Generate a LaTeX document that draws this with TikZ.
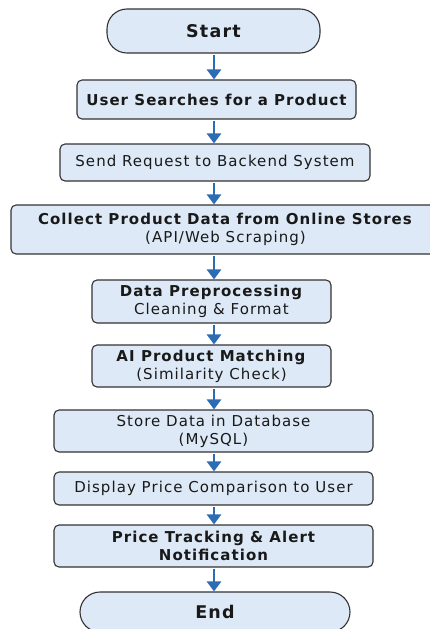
\documentclass[tikz,border=0pt]{standalone}
\usepackage{fontspec}
\setmainfont{DejaVu Sans}[LetterSpace=7]
\usetikzlibrary{arrows.meta}

\definecolor{boxfill}{HTML}{DDE9F6}
\definecolor{boxline}{HTML}{333333}
\definecolor{arrowblue}{HTML}{2B6CB3}

\tikzset{
  stepbox/.style={draw=boxline, line width=1.1pt, fill=boxfill, rounded corners=5pt,
    inner sep=0pt, align=center, text=black!90, font=\fontsize{15}{18}\selectfont},
  boldbox/.style={stepbox, font=\fontsize{15}{18}\selectfont\bfseries},
  termbox/.style={stepbox, rounded corners=20pt, font=\fontsize{17.5}{19}\selectfont\bfseries},
  flow/.style={draw=arrowblue, line width=2.6pt, -{Triangle[width=14pt,length=10pt]}}
}

\begin{document}
\begin{tikzpicture}[x=1pt,y=-1pt]
  \useasboundingbox (0,0) rectangle (430,629);

  % Terminals and process boxes
  \node[termbox, minimum width=213pt, minimum height=44pt] (start) at (213.5, 31) {Start};
  \node[boldbox, minimum width=279pt, minimum height=39pt] (search) at (216.5, 99.5) {User Searches for a Product};
  \node[stepbox, minimum width=310pt, minimum height=37pt] (request) at (215, 162.5) {Send Request to Backend System};
  \node[stepbox, minimum width=429pt, minimum height=49pt] (collect) at (225.5, 229.5)
    {\textbf{Collect Product Data from Online Stores}\\(API/Web Scraping)};
  \node[stepbox, minimum width=239pt, minimum height=43pt] (prep) at (211.5, 301.5)
    {\textbf{Data Preprocessing}\\Cleaning \& Format};
  \node[stepbox, minimum width=239pt, minimum height=42pt] (match) at (211.5, 366)
    {\textbf{AI Product Matching}\\(Similarity Check)};
  \node[stepbox, minimum width=319pt, minimum height=42pt] (store) at (213.5, 431)
    {Store Data in Database\\(MySQL)};
  \node[stepbox, minimum width=319pt, minimum height=33pt] (display) at (213.5, 488.5)
    {Display Price Comparison to User};
  \node[boldbox, minimum width=319pt, minimum height=42pt] (track) at (213.5, 546)
    {Price Tracking \& Alert\\Notification};
  \node[termbox, minimum width=270pt, minimum height=40pt] (end) at (215, 612) {End};

  % Arrows between steps
  \foreach \a/\b in {start/search, search/request, request/collect, collect/prep,
                     prep/match, match/store, store/display, display/track, track/end} {
    \draw[flow] (\a.south -| 214,0) ++(0,1.5) -- (\b.north -| 214,0);
  }
\end{tikzpicture}
\end{document}
